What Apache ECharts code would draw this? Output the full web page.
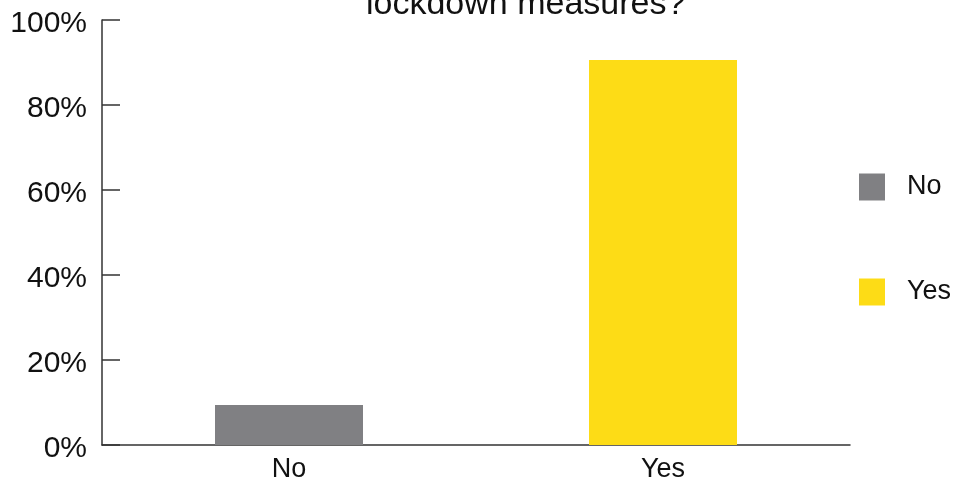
<!DOCTYPE html>
<html>
<head>
<meta charset="utf-8">
<script src="https://cdn.jsdelivr.net/npm/echarts@6/dist/echarts.min.js"></script>
<style>
  html, body { margin: 0; padding: 0; background: #fff; }
  #chart { width: 958px; height: 483px; }
</style>
</head>
<body>
<div id="chart"></div>
<script>
// Survey answers, share of respondents (%)
const categories = ['No', 'Yes'];
const shareNo = [9.4, '-'];
const shareYes = ['-', 90.6];
const yTicks = [0, 20, 40, 60, 80, 100];

const FONT = '"Liberation Sans", Arial, Helvetica, sans-serif';
const chart = echarts.init(document.getElementById('chart'));

chart.setOption({
  animation: false,
  backgroundColor: '#ffffff',
  title: {
    text: 'lockdown measures?',
    left: 361,
    top: -17,
    textStyle: { fontFamily: FONT, fontSize: 34, fontWeight: 'normal', color: '#111' }
  },
  legend: {
    orient: 'vertical',
    left: 854,
    top: 167,
    itemWidth: 26,
    itemHeight: 27,
    itemGap: 75,
    icon: 'rect',
    textStyle: { fontFamily: FONT, fontSize: 27, lineHeight: 27, color: '#111', padding: [3, 0, 0, 17] },
    data: ['No', 'Yes']
  },
  grid: { left: 102, right: 108, top: 20, bottom: 38 },
  xAxis: {
    type: 'category',
    data: categories,
    axisLine: { lineStyle: { color: '#333', width: 1.5 } },
    axisTick: { inside: true, length: 9, lineStyle: { color: '#333', width: 1.5 } },
    axisLabel: { fontFamily: FONT, fontSize: 27, color: '#111', margin: 11 }
  },
  yAxis: {
    type: 'value',
    min: yTicks[0],
    max: yTicks[yTicks.length - 1],
    interval: 20,
    splitLine: { show: false },
    axisLine: { show: true, lineStyle: { color: '#333', width: 1.5 } },
    axisTick: { show: true, inside: true, length: 18, lineStyle: { color: '#333', width: 1.5 } },
    axisLabel: {
      fontFamily: FONT, fontSize: 30, lineHeight: 8, color: '#111', margin: 15,
      verticalAlign: 'top',
      formatter: v => v + '%'
    }
  },
  series: [
    {
      name: 'No', type: 'bar', stack: 'answer', data: shareNo,
      barWidth: 148, itemStyle: { color: '#808083' }
    },
    {
      name: 'Yes', type: 'bar', stack: 'answer', data: shareYes,
      barWidth: 148, itemStyle: { color: '#FDDC16' }
    }
  ]
});
</script>
</body>
</html>
